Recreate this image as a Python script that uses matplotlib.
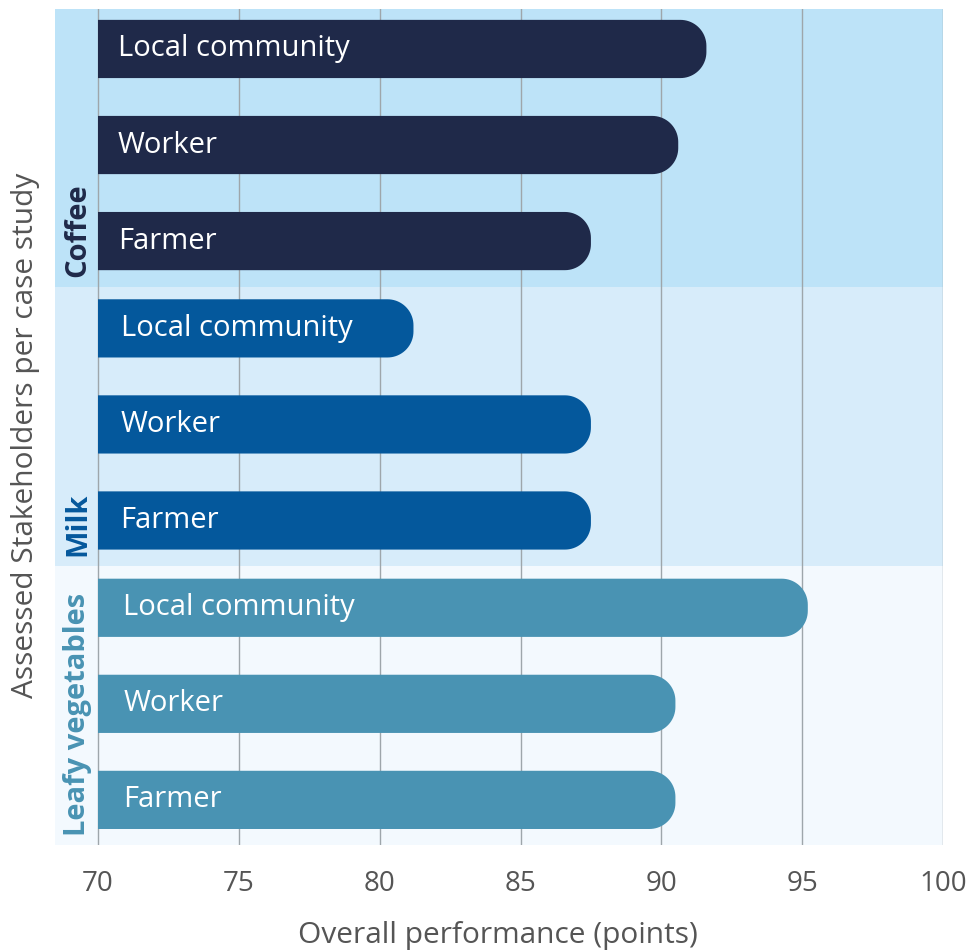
import numpy as np
import matplotlib.pyplot as plt
from matplotlib.patches import PathPatch
from matplotlib.path import Path

plt.rcParams['font.family'] = ['Open Sans', 'DejaVu Sans']

groups = ['Coffee', 'Milk', 'Leafy vegetables']
stakeholders = ['Local community', 'Worker', 'Farmer']
coffee = [91.6, 90.6, 87.5]
milk = [81.2, 87.5, 87.5]
leafy = [95.2, 90.5, 90.5]
values = [coffee, milk, leafy]
xticks = [70, 75, 80, 85, 90, 95, 100]

bar_colors = ['#1f2949', '#04589c', '#4993b3']
label_colors = ['#1f2949', '#04589c', '#4993b3']
band_colors = ['#bde3f8', '#d7ecfa', '#f3f9fe']

W, H = 978, 952
fig = plt.figure(figsize=(W / 100, H / 100), dpi=100)
ax_l, ax_r, ax_t, ax_b = 55, 943, 9, 845
ax = fig.add_axes([ax_l / W, 1 - ax_b / H, (ax_r - ax_l) / W, (ax_b - ax_t) / H])

x0 = 70 - 43 / 28.16
ax.set_xlim(x0, 100)
ymin, ymax = 0.093, 8.71
ax.set_ylim(ymax, ymin)

px_x = (ax_r - ax_l) / (100 - x0)
px_y = (ax_b - ax_t) / (ymax - ymin)
h = 0.6
rx = 26 / px_x
ry = 26 / px_y


def rounded_bar(y, v, color):
    # square left end at 70, rounded right corners
    top, bot = y - h / 2, y + h / 2
    t = np.linspace(0, np.pi / 2, 20)
    cx = v - rx
    upper = [(cx + rx * np.sin(a), top + ry - ry * np.cos(a)) for a in t]
    lower = [(cx + rx * np.cos(a), bot - ry + ry * np.sin(a)) for a in t]
    verts = [(70, top)] + upper + lower + [(70, bot), (70, top)]
    codes = [Path.MOVETO] + [Path.LINETO] * (len(verts) - 2) + [Path.CLOSEPOLY]
    ax.add_patch(PathPatch(Path(verts, codes), fc=color, ec='none', zorder=3))


for g, (name, vals) in enumerate(zip(groups, values)):
    start = 0.505 + g * 2.88
    ax.axhspan(start - 0.43, start + 2.45, color=band_colors[g], zorder=0, lw=0)
    for k, (s, v) in enumerate(zip(stakeholders, vals)):
        y = start + k * 0.99
        rounded_bar(y, v, bar_colors[g])
        ax.text(70.7 + g * 0.1, y, s, color='white', fontsize=21, va='center', ha='left', zorder=4)
    ax.text(69.27, start + 2.45 - 0.1, name, rotation=90, rotation_mode='anchor',
            ha='left', va='center', fontsize=21, fontweight='bold', color=label_colors[g])

for t in xticks:
    ax.axvline(t, color='#9ea6ab', lw=1, zorder=1)

ax.set_xticks(xticks)
ax.set_xticklabels([str(t) for t in xticks], fontsize=20, color='#555555')
ax.set_yticks([])
ax.tick_params(axis='x', length=0, pad=18)
for sp in ax.spines.values():
    sp.set_visible(False)

fig.text(498 / W, 1 - 935 / H, 'Overall performance (points)', ha='center', va='center',
         fontsize=21.5, color='#555555')
fig.text(26 / W, 1 - 435 / H, 'Assessed Stakeholders per case study', rotation=90,
         ha='center', va='center', fontsize=21.5, color='#555555')

plt.savefig('out.png', dpi=100)
